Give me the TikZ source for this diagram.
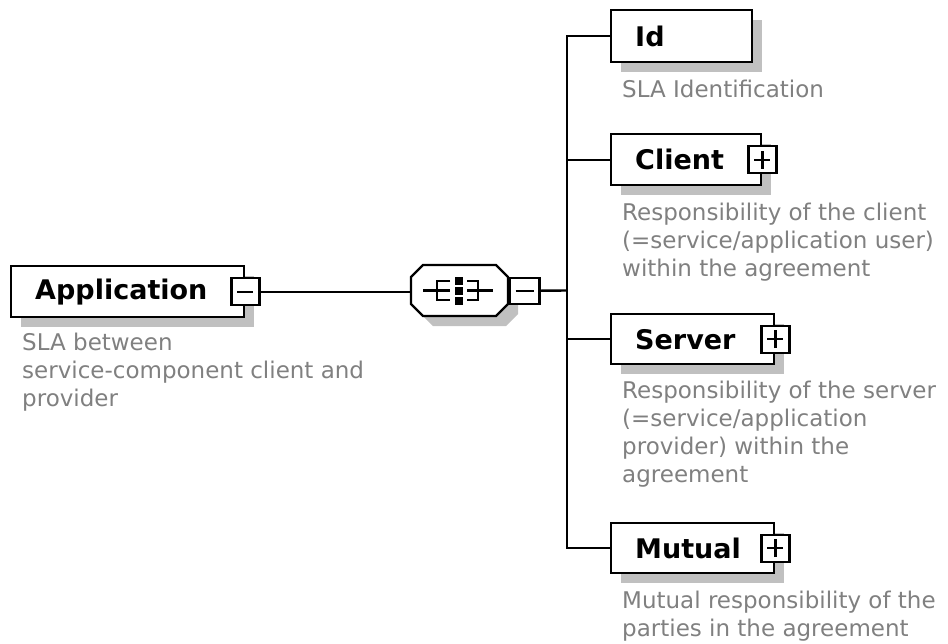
\documentclass[tikz,border=0pt]{standalone}
\usepackage{fontspec}
\setmainfont{DejaVu Sans}
\usetikzlibrary{shadows}
\definecolor{descgray}{RGB}{128,128,128}
\definecolor{shadowgray}{RGB}{192,192,192}
\newcommand\descfont{\fontsize{23}{28}\selectfont}
\newcommand\labfont{\fontsize{27}{30}\selectfont\bfseries}
\begin{document}
\begin{tikzpicture}[x=1pt,y=-1pt,
  elembox/.style={draw=black, line width=2.4pt, fill=white, anchor=north west,
    inner xsep=24pt, inner ysep=0pt, align=left, font=\labfont,
    drop shadow={shadow xshift=10pt, shadow yshift=-10pt, fill=shadowgray, opacity=1, draw=none}},
  pmbox/.style={draw=black, line width=2.4pt, fill=white, minimum width=28pt, minimum height=27pt, inner sep=0pt},
  pmline/.style={line width=2.4pt},
  desc/.style={anchor=north west, inner sep=0pt, align=left, font=\descfont, text=descgray},
  conn/.style={line width=2.4pt, draw=black, line join=miter},
  icon/.style={line width=2.4pt, draw=black}
]
\useasboundingbox (0,0) rectangle (948,643);

% Application
\node[elembox, minimum height=51pt, text width=185pt] (app) at (10,265) {Application};
\node[pmbox] (appm) at (app.east) {};
\draw[pmline] ([xshift=-8pt]appm.center) -- ([xshift=8pt]appm.center);
\node[desc] (appd) at (22,332.5) {SLA between\\service-component client and\\provider};

% Sequence compositor
\fill[shadowgray] (421,287) -- (433,275) -- (506,275) -- (518,287) -- (518,314) -- (506,326) -- (433,326) -- (421,314) -- cycle;
\draw[line width=2.4pt, fill=white] (411,277) -- (423,265) -- (496,265) -- (508,277) -- (508,304) -- (496,316) -- (423,316) -- (411,304) -- cycle;
\node[minimum width=97pt, minimum height=51pt, inner sep=0pt, anchor=north west] (seq) at (411,265) {};
% icon
\draw[icon] (423,290.5) -- (437,290.5);
\draw[icon] (450,281) -- (437,281) -- (437,300) -- (450,300);
\draw[icon] (437,290.5) -- (450,290.5);
\draw[icon] (467,281) -- (478,281) -- (478,300) -- (467,300);
\draw[icon] (467,290.5) -- (478,290.5);
\draw[icon] (478,290.5) -- (493,290.5);
\fill (455,277) rectangle (463,285);
\fill (455,287) rectangle (463,295);
\fill (455,297) rectangle (463,305);
\node[pmbox, minimum width=30pt, minimum height=26pt, anchor=west] (seqm) at (seq.east) {};
\draw[pmline] ([xshift=-9pt]seqm.center) -- ([xshift=9pt]seqm.center);

% Children
\node[elembox, minimum height=52pt, text width=93pt] (id) at (610,9) {Id};
\node[desc] (idd) at (622,79.5) {SLA Identification};

\node[elembox, minimum height=51pt, text width=102pt] (client) at (610,133) {Client};
\node[pmbox] (clientp) at (client.east) {};
\draw[pmline] ([xshift=-8pt]clientp.center) -- ([xshift=8pt]clientp.center)
  ([yshift=-9pt]clientp.center) -- ([yshift=9pt]clientp.center);
\node[desc] (clientd) at (622,202.5) {Responsibility of the client\\(=service/application user)\\within the agreement};

\node[elembox, minimum height=50pt, text width=115pt] (server) at (610,313) {Server};
\node[pmbox] (serverp) at (server.east) {};
\draw[pmline] ([xshift=-8pt]serverp.center) -- ([xshift=8pt]serverp.center)
  ([yshift=-9pt]serverp.center) -- ([yshift=9pt]serverp.center);
\node[desc] (serverd) at (622,380.5) {Responsibility of the server\\(=service/application\\provider) within the\\agreement};

\node[elembox, minimum height=50pt, text width=115pt] (mutual) at (610,522) {Mutual};
\node[pmbox] (mutualp) at (mutual.east) {};
\draw[pmline] ([xshift=-8pt]mutualp.center) -- ([xshift=8pt]mutualp.center)
  ([yshift=-9pt]mutualp.center) -- ([yshift=9pt]mutualp.center);
\node[desc] (mutuald) at (622,590.5) {Mutual responsibility of the\\parties in the agreement};

% Connectors
\coordinate (trunk) at (567,290.5);
\draw[conn] (appm.east) -- (appm.east -| seq.west);
\draw[conn] (seqm.east) -- (trunk);
\draw[conn] (id.west) -| (trunk);
\draw[conn] (client.west) -| (trunk);
\draw[conn] (server.west) -| (trunk);
\draw[conn] (mutual.west) -| (trunk);
\end{tikzpicture}
\end{document}
